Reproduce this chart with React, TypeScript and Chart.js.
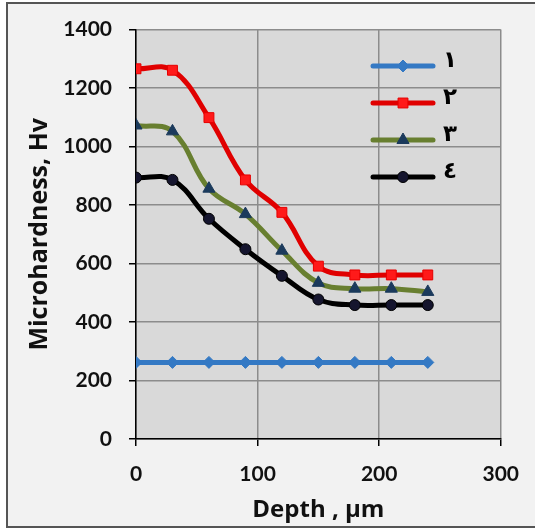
import React, { useEffect, useRef } from "react";
import { Chart, registerables } from "chart.js";
import * as helpers from "chart.js/helpers";

Chart.register(...registerables);

const depths = [0, 30, 60, 90, 120, 150, 180, 210, 240];
const series1 = [262, 262, 262, 262, 262, 262, 262, 262, 262];
const series2 = [1266, 1261, 1099, 886, 775, 591, 561, 561, 561];
const series3 = [1072, 1052, 856, 769, 644, 534, 514, 514, 503];
const series4 = [894, 886, 753, 649, 558, 477, 458, 458, 458];
const seriesLabels = ["١", "٢", "٣", "٤"];
const xTicks = [0, 100, 200, 300];
const yTicks = [0, 200, 400, 600, 800, 1000, 1200, 1400];

const TICK_FONT = "Lato, 'Open Sans', sans-serif";
const TITLE_FONT = "'Open Sans', Lato, sans-serif";

const toPoints = (ys: number[]) => depths.map((x, i) => ({ x, y: ys[i] }));

const framePlugin = {
  id: "frame",
  beforeDraw(chart: any) {
    const { ctx, chartArea } = chart;
    ctx.save();
    ctx.fillStyle = "#ffffff";
    ctx.fillRect(0, 0, chart.width, chart.height);
    ctx.fillStyle = "#f2f2f2";
    ctx.fillRect(7, 3, chart.width, 524);
    ctx.strokeStyle = "#555555";
    ctx.lineWidth = 2;
    ctx.strokeRect(7, 3, chart.width + 10, 524);
    ctx.fillStyle = "#d9d9d9";
    ctx.fillRect(chartArea.left, chartArea.top, chartArea.right - chartArea.left, chartArea.bottom - chartArea.top);
    ctx.restore();
  },
};

const legendPlugin = {
  id: "customLegend",
  afterDatasetsDraw(chart: any) {
    const { ctx, chartArea } = chart;
    const x0 = chartArea.left + 237;
    const x1 = x0 + 60;
    const y0 = 66;
    const gap = 37;
    chart.data.datasets.forEach((ds: any, i: number) => {
      const y = y0 + i * gap;
      ctx.save();
      ctx.strokeStyle = ds.borderColor;
      ctx.lineWidth = ds.borderWidth;
      ctx.lineCap = "round";
      ctx.beginPath();
      ctx.moveTo(x0, y);
      ctx.lineTo(x1, y);
      ctx.stroke();
      ctx.restore();
      ctx.save();
      ctx.fillStyle = ds.pointBackgroundColor;
      ctx.strokeStyle = ds.pointBorderColor;
      ctx.lineWidth = 1;
      helpers.drawPoint(ctx, { pointStyle: ds.pointStyle, radius: ds.pointRadius, borderWidth: 1, rotation: 0 } as any, (x0 + x1) / 2, y);
      ctx.restore();
      ctx.save();
      ctx.fillStyle = "#000";
      ctx.font = "bold 23px 'DejaVu Sans', sans-serif";
      ctx.textAlign = "left";
      ctx.textBaseline = "middle";
      ctx.fillText(ds.label, x1 + 10, y - 5);
      ctx.restore();
    });
  },
};

export default function App() {
  const ref = useRef<HTMLCanvasElement>(null);
  useEffect(() => {
    if (!ref.current) return;
    const common = { borderWidth: 5, tension: 0.4, pointBorderWidth: 1 };
    const chart = new Chart(ref.current, {
      type: "line",
      data: {
        datasets: [
          { ...common, label: seriesLabels[0], data: toPoints(series1), borderColor: "#3479c4", pointBackgroundColor: "#3479c4", pointBorderColor: "#3479c4", pointStyle: "rectRot", pointRadius: 6 },
          { ...common, label: seriesLabels[1], data: toPoints(series2), borderColor: "#e00000", pointBackgroundColor: "#ff1a1a", pointBorderColor: "#e60000", pointStyle: "rect", pointRadius: 7 },
          { ...common, label: seriesLabels[2], data: toPoints(series3), borderColor: "#687f30", pointBackgroundColor: "#1b3a5c", pointBorderColor: "#1b3a5c", pointStyle: "triangle", pointRadius: 7 },
          { ...common, label: seriesLabels[3], data: toPoints(series4), borderColor: "#000000", pointBackgroundColor: "#15152e", pointBorderColor: "#000000", pointStyle: "circle", pointRadius: 5.5 },
        ],
      },
      options: {
        animation: false,
        responsive: false,
        layout: { padding: { left: 0, top: 19, right: 33, bottom: 0 } },
        plugins: { legend: { display: false }, tooltip: { enabled: false } },
        scales: {
          x: {
            type: "linear",
            min: 0,
            max: 300,
            afterFit: (s: any) => { s.height = 92; },
            afterBuildTicks: (s: any) => { s.ticks = xTicks.map((v) => ({ value: v })); },
            ticks: { color: "#111", font: { family: TICK_FONT, size: 21, weight: "bold" }, padding: 16, callback: (v: any) => String(v) },
            grid: { color: "#8c8c8c", lineWidth: 1.5, tickColor: "#000", tickLength: 7 },
            border: { color: "#000", width: 1.5 },
            title: { display: true, text: "Depth , µm", color: "#111", font: { family: TITLE_FONT, size: 24, weight: "bold" }, padding: { top: 0, bottom: 6 } },
          },
          y: {
            type: "linear",
            min: 0,
            max: 1400,
            afterFit: (s: any) => { s.width = 136; },
            afterBuildTicks: (s: any) => { s.ticks = yTicks.map((v) => ({ value: v })); },
            ticks: { color: "#111", font: { family: TICK_FONT, size: 21, weight: "bold" }, padding: 17, callback: (v: any) => String(v) },
            grid: { color: "#8c8c8c", lineWidth: 1.5, tickColor: "#000", tickLength: 7 },
            border: { color: "#000", width: 1.5 },
            title: { display: true, text: "Microhardness, Hv", color: "#111", font: { family: TITLE_FONT, size: 25, weight: "bold" }, padding: { top: 25, bottom: 0 } },
          },
        },
      },
      plugins: [framePlugin, legendPlugin],
    } as any);
    return () => chart.destroy();
  }, []);
  return (
    <div style={{ position: "absolute", left: 0, top: 0, width: 535, height: 531 }}>
      <canvas ref={ref} width={535} height={531} style={{ display: "block" }} />
    </div>
  );
}
